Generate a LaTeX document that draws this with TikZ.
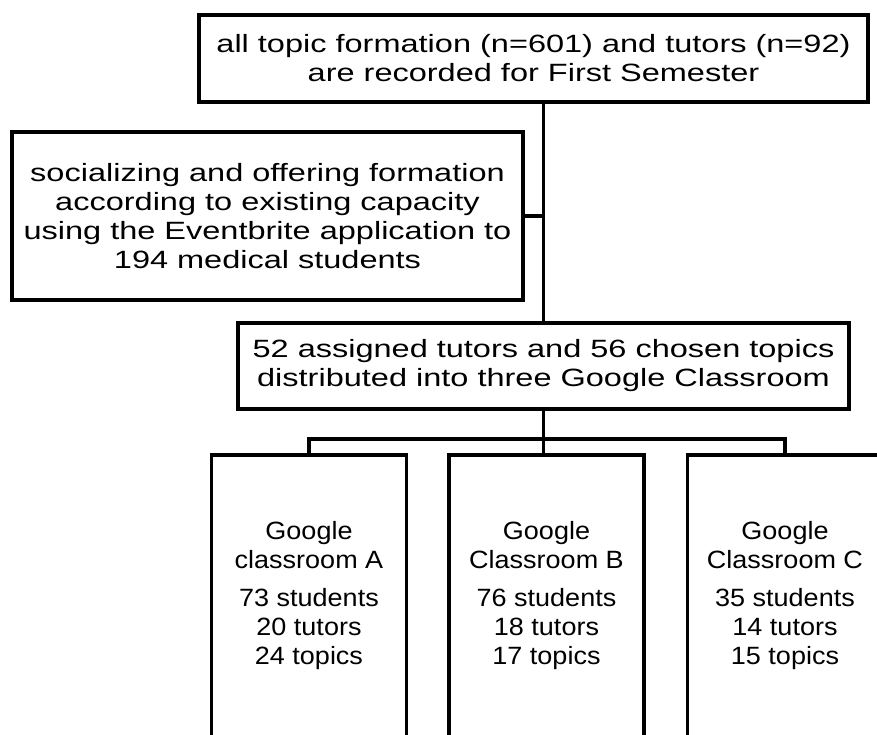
\documentclass[tikz,border=0pt]{standalone}
\usepackage{fontspec}
\setmainfont{Liberation Sans}[FakeStretch=1.30]
\newfontfamily\roomfont{Liberation Sans}[FakeStretch=1.08]
\usetikzlibrary{positioning}

\begin{document}
\begin{tikzpicture}[
    x=1pt, y=1pt,
    font=\fontsize{25}{29}\selectfont, % stretched sans text
    box/.style={draw, line width=3.5pt, align=center, inner sep=0pt},
    room/.style={box, minimum width=195pt, minimum height=282pt,
        font=\roomfont\fontsize{25}{29}\selectfont},
    link/.style={line width=3.5pt}
]
\fill[white] (0,0) rectangle (877,-735);
\useasboundingbox (0,0) rectangle (877,-735);
\clip (0,0) rectangle (877,-735);

% recorded topics and tutors
\node[box, minimum width=669pt, minimum height=87pt] (record) at (533.5,-58.5) {
    all topic formation (n=601) and tutors (n=92)\\
    are recorded for First Semester
};

% socializing step
\node[box, minimum width=511pt, minimum height=168pt] (social) at (267.5,-216) {
    socializing and offering formation\\
    according to existing capacity\\
    using the Eventbrite application to\\
    194 medical students
};

% assignment to classrooms
\node[box, minimum width=611pt, minimum height=86pt] (assign) at (543.5,-366) {
    52 assigned tutors and 56 chosen topics\\
    distributed into three Google Classroom
};

% classrooms
\node[room] (roomA) at (309,-596) {
    Google\\ classroom A\\[9pt]
    73 students\\ 20 tutors\\ 24 topics
};
\node[room, right=39pt of roomA] (roomB) {
    Google\\ Classroom B\\[9pt]
    76 students\\ 18 tutors\\ 17 topics
};
\node[room, right=40pt of roomB] (roomC) {
    Google\\ Classroom C\\[9pt]
    35 students\\ 14 tutors\\ 15 topics
};

% connectors
\draw[link] (record.south -| assign.north) -- (assign.north);
\draw[link] (social.east) -- (social.east -| assign.north);
\coordinate (bar) at (assign.south |- 0,-439);
\draw[link] (assign.south) -- (assign.south |- roomB.north);
\draw[link] (roomA.north) |- (bar) -| (roomC.north);
\end{tikzpicture}
\end{document}
